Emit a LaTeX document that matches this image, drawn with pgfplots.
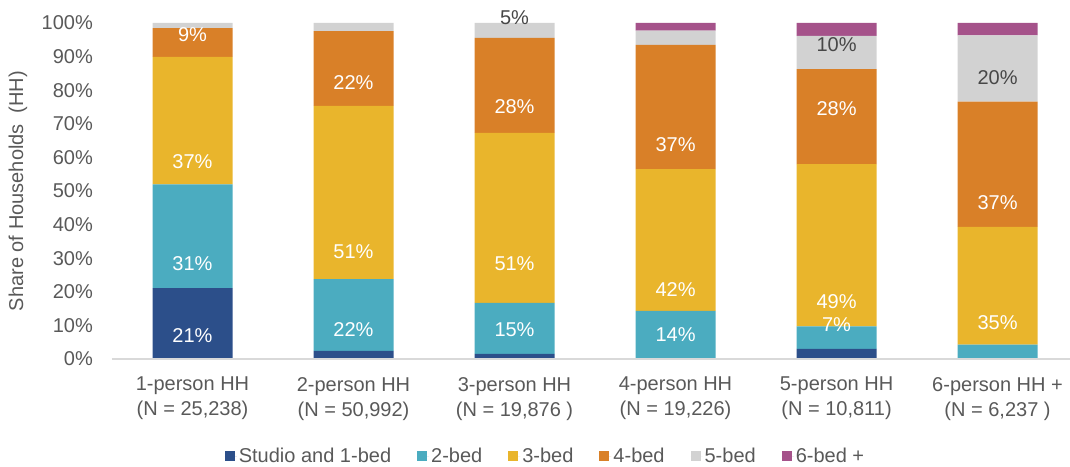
\documentclass[border=0pt]{standalone}
\usepackage{pgfplots}
\pgfplotsset{compat=1.18}
\usepackage{fontspec}
\setmainfont{Liberation Sans}
\definecolor{cStudio}{HTML}{2C4F8A}
\definecolor{cTwo}{HTML}{4BACC0}
\definecolor{cThree}{HTML}{E9B52C}
\definecolor{cFour}{HTML}{D98028}
\definecolor{cFive}{HTML}{D2D2D2}
\definecolor{cSix}{HTML}{A5528A}
\definecolor{tgray}{HTML}{595959}
\definecolor{lgray}{HTML}{D9D9D9}
\pgfplotstableread{
x y label
0 7.1 21\%
0 28.3 31\%
0 58.6 37\%
0 96.4 9\%
1 8.9 22\%
1 31.8 51\%
1 82.4 22\%
2 8.6 15\%
2 28.3 51\%
2 75.0 28\%
3 7.4 14\%
3 20.8 42\%
3 63.7 37\%
4 10.1 7\%
4 16.96 49\%
4 74.4 28\%
5 10.7 35\%
5 46.4 37\%
}\whitelabels
\pgfplotstableread{
x y label
2 101.5 5\%
4 93.5 10\%
5 83.6 20\%
}\graylabels
\begin{document}
\begin{tikzpicture}
\pgfplotsset{common/.style={at={(0,0)}, anchor=south west, scale only axis,
  width=958pt, height=336pt, xmin=-0.5, xmax=5.45, ymin=0, ymax=100, clip=false}}
\begin{axis}[
  common,
  ybar stacked, bar width=80pt,
  axis line style={draw=none},
  tick style={draw=none},
  xtick={0,1,2,3,4,5},
  xticklabels={{1-person HH\\(N = 25,238)},{2-person HH\\(N = 50,992)},{3-person HH\\(N = 19,876 )},{4-person HH\\(N = 19,226)},{5-person HH\\(N = 10,811)},{6-person HH +\\(N = 6,237 )}},
  xticklabel style={align=center, anchor=north, inner sep=0pt, yshift=-18pt, font=\fontsize{20}{25}\selectfont, text=tgray},
  ytick={0,10,20,30,40,50,60,70,80,90,100},
  yticklabels={0\%,10\%,20\%,30\%,40\%,50\%,60\%,70\%,80\%,90\%,100\%},
  yticklabel style={anchor=east, inner sep=0pt, xshift=-19pt, font=\fontsize{20}{24}\selectfont, text=tgray},
  ylabel={Share of Households~~(HH)},
  ylabel style={at={(axis description cs:-0.0981,0.5)}, anchor=center, font=\fontsize{20}{24}\selectfont, text=tgray},
  legend columns=6,
  legend style={at={(0.4525,-0.289)}, anchor=center, draw=none, fill=none,
    font=\fontsize{20}{24}\selectfont, text=tgray,
    /tikz/every even column/.append style={column sep=24pt},
    cells={anchor=west}},
  legend image code/.code={\fill[#1,draw=none] (0pt,-5pt) rectangle (10pt,5pt); \path (0pt,0pt) -- (12pt,0pt);},
]
\addplot[fill=cStudio, draw=none] coordinates {(0,21.1) (1,2.4) (2,1.5) (3,0) (4,3.0) (5,0)};
\addplot[fill=cTwo, draw=none] coordinates {(0,30.9) (1,21.4) (2,15.2) (3,14.3) (4,6.7) (5,4.3)};
\addplot[fill=cThree, draw=none] coordinates {(0,37.9) (1,51.5) (2,50.6) (3,42.2) (4,48.3) (5,35.0)};
\addplot[fill=cFour, draw=none] coordinates {(0,8.6) (1,22.3) (2,28.3) (3,37.0) (4,28.3) (5,37.3)};
\addplot[fill=cFive, draw=none] coordinates {(0,1.5) (1,2.4) (2,4.4) (3,4.2) (4,9.9) (5,19.7)};
\addplot[fill=cSix, draw=none] coordinates {(0,0) (1,0) (2,0) (3,2.3) (4,3.8) (5,3.7)};
\legend{Studio and 1-bed,2-bed,3-bed,4-bed,5-bed,6-bed +}
\end{axis}
\begin{axis}[common, hide axis,
  every node near coord/.append style={anchor=center, inner sep=0pt, font=\fontsize{20}{24}\selectfont}]
\draw[lgray, line width=1.3pt] (rel axis cs:0,0) -- (rel axis cs:1,0);
\addplot[draw=none, mark=none, nodes near coords, point meta=explicit symbolic,
  every node near coord/.append style={text=white}] table[x=x, y=y, meta=label] {\whitelabels};
\addplot[draw=none, mark=none, nodes near coords, point meta=explicit symbolic,
  every node near coord/.append style={text=tgray!80!black}] table[x=x, y=y, meta=label] {\graylabels};
\end{axis}
\pgfresetboundingbox
\path[use as bounding box] (-112pt,-107pt) rectangle (958pt,359pt);
\end{tikzpicture}
\end{document}
